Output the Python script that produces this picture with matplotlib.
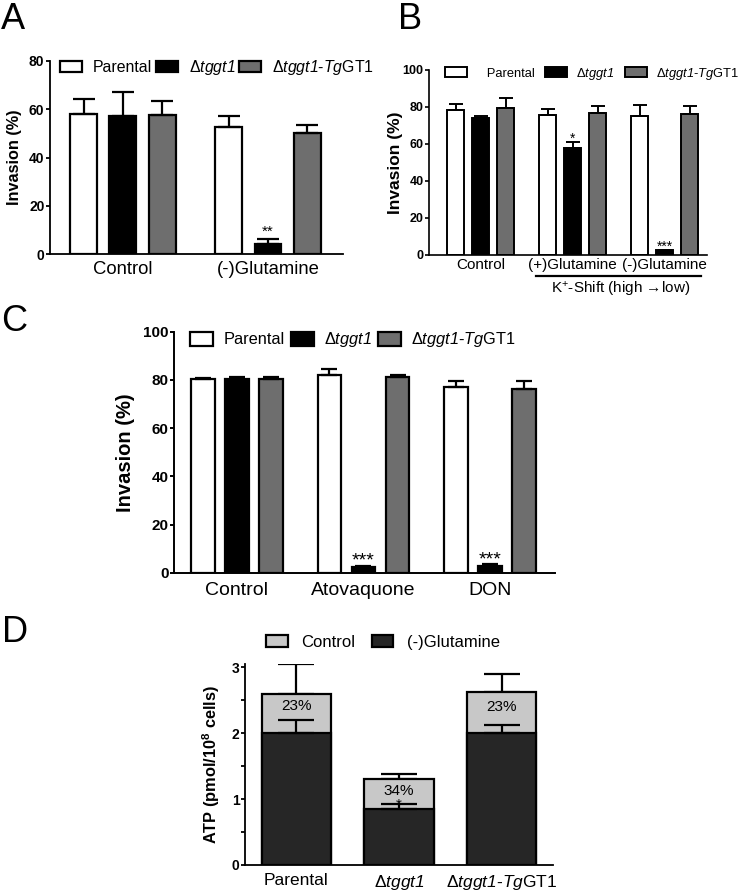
import matplotlib.pyplot as plt
import numpy as np

plt.rcParams['font.family'] = ['Liberation Sans', 'DejaVu Sans']
plt.rcParams['mathtext.fontset'] = 'custom'
plt.rcParams['mathtext.rm'] = 'Liberation Sans:italic'
plt.rcParams['mathtext.it'] = 'Liberation Sans:italic'
plt.rcParams['mathtext.bf'] = 'Liberation Sans:bold'

# ---- data ----
strains = ['Parental', 'Δ$tggt1$', 'Δ$tggt1$-$Tg$GT1']
bar_colors = ['white', 'black', '#6e6e6e']

# panel A: rows = strain, cols = condition
a_groups = ['Control', '(-)Glutamine']
a_means = [[58.0, 52.5], [57.4, 4.1], [57.5, 50.3]]
a_sd = [[6.3, 4.5], [9.9, 2.0], [6.1, 3.0]]
a_stars = [['', ''], ['', '**'], ['', '']]

# panel B
b_groups = ['Control', '(+)Glutamine', '(-)Glutamine']
b_means = [[78.4, 75.7, 75.3], [73.9, 58.0, 2.5], [79.3, 76.6, 76.0]]
b_sd = [[3.0, 3.2, 5.8], [1.4, 3.3, 0.4], [5.7, 3.9, 4.5]]
b_stars = [['', '', ''], ['', '*', '***'], ['', '', '']]
b_bracket = 'K$^{\\mathregular{+}}$-Shift (high →low)'

# panel C
c_groups = ['Control', 'Atovaquone', 'DON']
c_means = [[80.2, 82.0, 76.9], [80.5, 2.5, 2.8], [80.2, 81.2, 76.3]]
c_sd = [[0.7, 2.5, 2.8], [0.5, 0.3, 0.7], [0.8, 0.7, 3.4]]
c_stars = [['', '', ''], ['', '***', '***'], ['', '', '']]

# panel D
d_strains = ['Parental', 'Δ$tggt1$', 'Δ$tggt1$-$Tg$GT1']
d_control = [2.60, 1.30, 2.62]
d_control_sd = [0.45, 0.08, 0.28]
d_glut = [2.00, 0.85, 2.00]
d_glut_sd = [0.20, 0.07, 0.13]
d_pct = ['23%', '34%', '23%']
d_stars = ['', '*', '']

W, H = 745, 891
fig = plt.figure(figsize=(W / 100, H / 100), dpi=100)


def box(l, t, r, b):
    return [l / W, 1 - b / H, (r - l) / W, (b - t) / H]


def style(ax, lw, fs_tick, fs_cat, cat_pad):
    for s in ['top', 'right']:
        ax.spines[s].set_visible(False)
    for s in ['left', 'bottom']:
        ax.spines[s].set_linewidth(lw)
    ax.tick_params(axis='y', length=3, width=lw, pad=1, labelsize=fs_tick)
    ax.tick_params(axis='x', length=0, pad=cat_pad, labelsize=fs_cat)
    for t in ax.get_yticklabels():
        t.set_fontweight('bold')


def grouped(ax, groups, means, sd, stars, width, offset, capsize, lw, star_fs, star_off):
    x = np.arange(len(groups))
    for i in range(3):
        xi = x + (i - 1) * offset
        m = np.array(means[i])
        e = np.array(sd[i])
        ax.errorbar(xi, m, yerr=[np.zeros_like(e), e], fmt='none', ecolor='black',
                    elinewidth=lw, capsize=capsize, capthick=lw, zorder=3)
        ax.bar(xi, m, width, color=bar_colors[i], edgecolor='black', linewidth=lw,
               zorder=2, label=strains[i])
        for xx, mm, ee, s in zip(xi, m, e, stars[i]):
            if s:
                ax.annotate(s, (xx, mm + ee), xytext=(0, star_off), textcoords='offset points',
                            ha='center', va='baseline', fontsize=star_fs)
    ax.set_xticks(x)
    ax.set_xticklabels(groups)


# ---- A ----
axA = fig.add_axes(box(50, 61, 343, 254))
grouped(axA, a_groups, a_means, a_sd, a_stars, 0.186, 0.272, 8, 1.6, 11, 2.3)
axA.set_ylim(0, 80)
axA.set_xlim(-0.503, 1.517)
axA.set_yticks([0, 20, 40, 60, 80])
style(axA, 1.3, 10, 13.3, 5)
axA.set_ylabel('Invasion (%)', fontsize=11.7, fontweight='bold')
axA.yaxis.set_label_coords(-0.096, 0.5)
axA.legend(loc='center left', bbox_to_anchor=(0.034, 0.966), ncol=3, frameon=False,
           fontsize=11.4, handlelength=1.4, handleheight=0.6, handletextpad=0.7,
           columnspacing=0.2, borderpad=0, borderaxespad=0)

# ---- B ----
axB = fig.add_axes(box(429, 70, 707, 255))
grouped(axB, b_groups, b_means, b_sd, b_stars, 0.185, 0.272, 4.8, 1.4, 10, -1)
axB.set_ylim(0, 100)
axB.set_xlim(-0.56, 2.46)
axB.set_yticks([0, 20, 40, 60, 80, 100])
style(axB, 1.2, 9, 11, 2)
axB.set_ylabel('Invasion (%)', fontsize=12.5, fontweight='bold')
axB.yaxis.set_label_coords(-0.094, 0.5)
hB, lB = axB.get_legend_handles_labels()
lB[0] = '   ' + lB[0]
axB.legend(hB, lB, loc='center left', bbox_to_anchor=(0.058, 0.981), ncol=3, frameon=False,
           fontsize=9.3, handlelength=1.7, handleheight=0.85, handletextpad=0.7,
           columnspacing=0.8, borderpad=0, borderaxespad=0)
trB = axB.get_xaxis_transform()
axB.plot([0.6, 2.4], [-0.114, -0.114], transform=trB, color='black', lw=1.6,
         clip_on=False)
axB.text(1.52, -0.185, b_bracket, transform=trB, ha='center', va='center', fontsize=11)

# ---- C ----
axC = fig.add_axes(box(174, 331.7, 555, 572.7))
grouped(axC, c_groups, c_means, c_sd, c_stars, 0.186, 0.269, 6, 1.6, 14, 0)
axC.set_ylim(0, 100)
axC.set_xlim(-0.498, 2.514)
axC.set_yticks([0, 20, 40, 60, 80, 100])
style(axC, 1.4, 11, 14, 7)
axC.set_ylabel('Invasion (%)', fontsize=14.5, fontweight='bold')
axC.yaxis.set_label_coords(-0.102, 0.5)
axC.legend(loc='center left', bbox_to_anchor=(0.042, 0.966), ncol=3, frameon=False,
           fontsize=11.8, handlelength=1.4, handleheight=0.95, handletextpad=0.65,
           columnspacing=0.35, borderpad=0, borderaxespad=0)

# ---- D ----
axD = fig.add_axes(box(245, 664, 553, 865))
xd = np.arange(len(d_strains))
axD.bar(xd, d_control, 0.673, color='#c8c8c8', edgecolor='black', linewidth=1.6,
        zorder=2, label='Control')
axD.errorbar(xd, d_control, yerr=[np.zeros(3), d_control_sd], fmt='none', ecolor='black',
             elinewidth=1.6, capsize=13, capthick=1.6, zorder=1)
axD.bar(xd, d_glut, 0.673, color='#262626', edgecolor='black', linewidth=1.6,
        zorder=3, label='(-)Glutamine')
axD.errorbar(xd, d_glut, yerr=[np.zeros(3), d_glut_sd], fmt='none', ecolor='black',
             elinewidth=1.6, capsize=13, capthick=1.6, zorder=4)
for i in range(3):
    top = d_glut[i] + d_glut_sd[i]
    axD.text(xd[i], (d_control[i] + top) / 2 + 0.02, d_pct[i], ha='center', va='center',
             fontsize=11, zorder=5)
    if d_stars[i]:
        axD.annotate(d_stars[i], (xd[i], top), xytext=(0, -3.5), textcoords='offset points',
                     ha='center', va='baseline', fontsize=11, zorder=5)
axD.set_xticks(xd)
axD.set_xticklabels(d_strains)
axD.set_ylim(0, 3.05)
axD.set_xlim(-0.502, 2.502)
axD.set_yticks([0, 1, 2, 3])
axD.set_yticks([0.5, 1.5, 2.5], minor=True)
style(axD, 1.3, 10, 12.5, 6)
axD.tick_params(axis='y', which='minor', length=3, width=1.3)
axD.set_ylabel('ATP (pmol/10$^{\\mathregular{8}}$ cells)', fontsize=11.8, fontweight='bold')
axD.yaxis.set_label_coords(-0.075, 0.5)
axD.legend(loc='center left', bbox_to_anchor=(0.068, 1.107), ncol=2, frameon=False,
           fontsize=12, handlelength=1.3, handleheight=0.7, handletextpad=0.8,
           columnspacing=1.0, borderpad=0, borderaxespad=0)

# ---- panel letters ----
for lab, px, py in [('A', 1, 2), ('B', 398, 2), ('C', 1, 304), ('D', 2, 615)]:
    fig.text(px / W, 1 - py / H, lab, fontsize=26, ha='left', va='top')

fig.savefig('out.png', dpi=100)
